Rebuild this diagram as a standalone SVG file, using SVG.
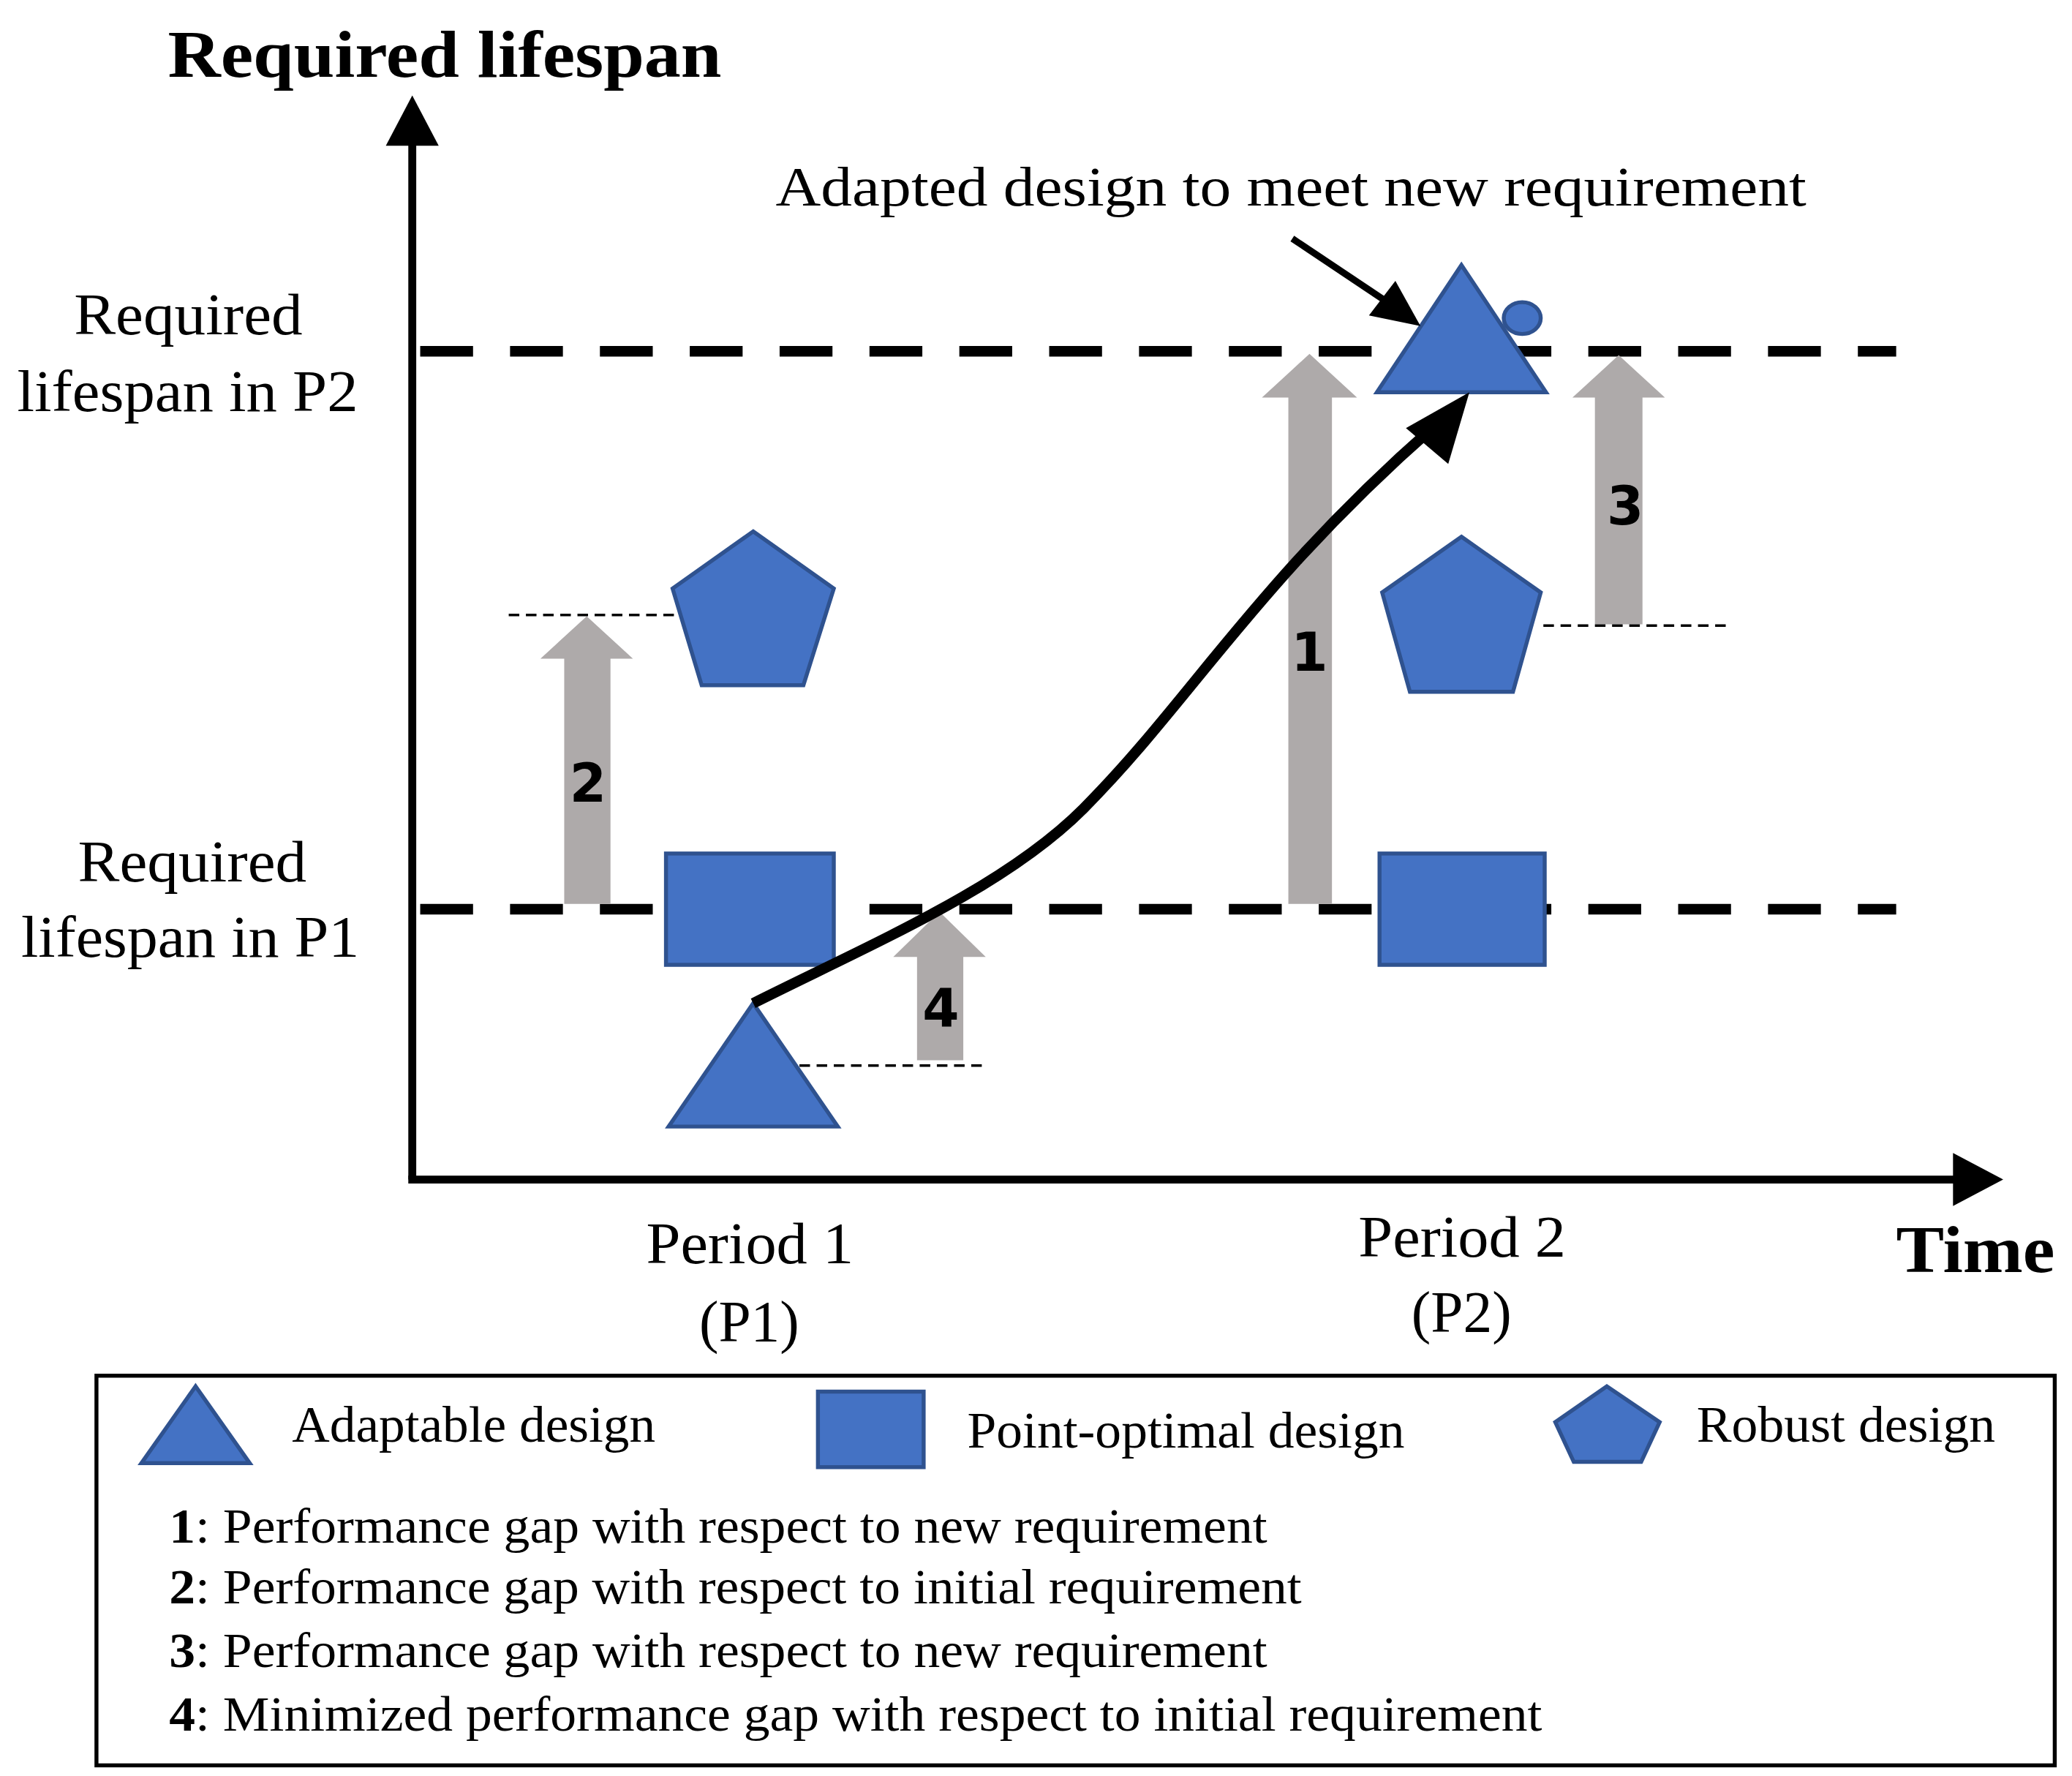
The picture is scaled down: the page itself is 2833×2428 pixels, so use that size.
<svg xmlns="http://www.w3.org/2000/svg" width="2833" height="2428" viewBox="0 0 2833 2428">
<style>
.t{font-family:"Liberation Serif",serif;fill:#000}
.b{font-weight:bold}
.n{font-family:"DejaVu Sans",sans-serif;font-weight:bold;font-size:40px;text-anchor:middle}
.sh{fill:#4472C4;stroke:#2F528F;stroke-width:3}
.g{fill:#AEAAAA}
.dl{stroke:#000;stroke-width:8;stroke-dasharray:40 28;fill:none}
.dt{stroke:#000;stroke-width:2;stroke-dasharray:8 5;fill:none}
</style>
<rect width="2833" height="2428" fill="#fff"/>
<g transform="scale(1.8067,1.8119)">
<g id="axes">
<text class="t b" x="127" y="58" font-size="50" textLength="419" lengthAdjust="spacingAndGlyphs">Required lifespan</text>
<line x1="312" y1="890" x2="312" y2="105" stroke="#000" stroke-width="6"/>
<polygon points="312,72 292,110 332,110"/>
<line x1="309" y1="890" x2="1482" y2="890" stroke="#000" stroke-width="6"/>
<polygon points="1516,890 1478,870 1478,910"/>
<text class="t b" x="1435" y="960" font-size="50" textLength="120" lengthAdjust="spacingAndGlyphs">Time</text>
<line class="dl" x1="318" y1="265" x2="1435" y2="265"/>
<line class="dl" x1="318" y1="686" x2="1435" y2="686"/>
<text class="t" x="56" y="252" font-size="44" textLength="173" lengthAdjust="spacingAndGlyphs">Required</text>
<text class="t" x="13" y="310" font-size="44" textLength="258" lengthAdjust="spacingAndGlyphs">lifespan in P2</text>
<text class="t" x="59" y="665" font-size="44" textLength="173" lengthAdjust="spacingAndGlyphs">Required</text>
<text class="t" x="16" y="722" font-size="44" textLength="256" lengthAdjust="spacingAndGlyphs">lifespan in P1</text>
<text class="t" x="489" y="953" font-size="44" textLength="157" lengthAdjust="spacingAndGlyphs">Period 1</text>
<text class="t" x="567" y="1012" font-size="44" text-anchor="middle">(P1)</text>
<text class="t" x="1028" y="948" font-size="44" textLength="157" lengthAdjust="spacingAndGlyphs">Period 2</text>
<text class="t" x="1106" y="1005" font-size="44" text-anchor="middle">(P2)</text>
<text class="t" x="587" y="155" font-size="42" textLength="780" lengthAdjust="spacingAndGlyphs">Adapted design to meet new requirement</text>
</g>
<g id="gaps">
<polygon class="g" points="975,682 975,300 955,300 991,267 1027,300 1008,300 1008,682"/>
<text class="n" x="991" y="506">1</text>
<polygon class="g" points="1207,471 1207,300 1190,300 1225,268 1260,300 1243,300 1243,471"/>
<text class="n" x="1230" y="396">3</text>
<polygon class="g" points="427,682 427,497 409,497 444,465 479,497 462,497 462,682"/>
<text class="n" x="445" y="605">2</text>
<polygon class="g" points="694,800 694,722 676,722 711,688 746,722 729,722 729,800"/>
<text class="n" x="712" y="775">4</text>
<line class="dt" x1="1168" y1="472" x2="1308" y2="472"/>
<line class="dt" x1="385" y1="464" x2="510" y2="464"/>
<line class="dt" x1="605" y1="804" x2="745" y2="804"/>
</g>
<g id="p2-designs">
<polygon class="sh" points="1106,200 1042,296 1170,296"/>
<ellipse class="sh" cx="1152" cy="240" rx="14" ry="12"/>
<polygon class="sh" points="1106,405 1166,447 1145,522 1067,522 1046,447"/>
<rect class="sh" x="1044" y="644" width="125" height="84"/>
</g>
<g id="p1-designs">
<polygon class="sh" points="570,401 631,444 608,517 531,517 509,444"/>
<rect class="sh" x="504" y="644" width="127" height="84"/>
<polygon class="sh" points="570,757 506,850 634,850"/>
</g>
<g id="connectors">
<path d="M570,757 C660,712 760,670 820,610 C900,530 950,440 1085,322" fill="none" stroke="#000" stroke-width="8"/>
<polygon points="1112,296 1064,323 1096,350"/>
<line x1="978" y1="180" x2="1050" y2="228" stroke="#000" stroke-width="5"/>
<polygon points="1075,246 1036,238 1056,212"/>
</g>
<g id="legend">
<rect x="73" y="1038" width="1482" height="294" fill="none" stroke="#000" stroke-width="3"/>
<polygon class="sh" points="148,1046 107,1104 189,1104"/>
<text class="t" x="221" y="1088" font-size="38" textLength="275" lengthAdjust="spacingAndGlyphs">Adaptable design</text>
<rect class="sh" x="619" y="1050" width="80" height="57"/>
<text class="t" x="732" y="1092" font-size="38" textLength="331" lengthAdjust="spacingAndGlyphs">Point-optimal design</text>
<polygon class="sh" points="1216,1046 1256,1073 1242,1103 1191,1103 1177,1073"/>
<text class="t" x="1284" y="1088" font-size="38" textLength="226" lengthAdjust="spacingAndGlyphs">Robust design</text>
<text class="t" x="128" y="1164" font-size="37" textLength="831" lengthAdjust="spacingAndGlyphs"><tspan class="b">1</tspan>: Performance gap with respect to new requirement</text>
<text class="t" x="128" y="1210" font-size="37" textLength="857" lengthAdjust="spacingAndGlyphs"><tspan class="b">2</tspan>: Performance gap with respect to initial requirement</text>
<text class="t" x="128" y="1258" font-size="37" textLength="831" lengthAdjust="spacingAndGlyphs"><tspan class="b">3</tspan>: Performance gap with respect to new requirement</text>
<text class="t" x="128" y="1306" font-size="37" textLength="1039" lengthAdjust="spacingAndGlyphs"><tspan class="b">4</tspan>: Minimized performance gap with respect to initial requirement</text>
</g>
</g>
</svg>
